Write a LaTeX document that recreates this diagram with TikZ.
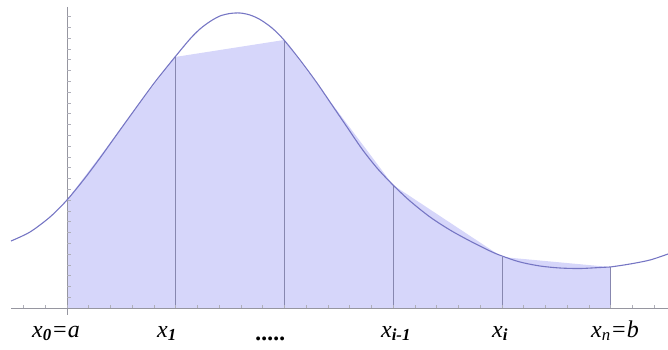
\documentclass[tikz,border=0pt]{standalone}
\usepackage{fontspec}
\setmainfont{Liberation Serif}
\begin{document}
\begin{tikzpicture}[x=1pt,y=-1pt,
  fillc/.style={fill={rgb,255:red,214;green,214;blue,250}},
  curvec/.style={draw={rgb,255:red,118;green,118;blue,196},line width=1.1pt},
  divline/.style={draw={rgb,255:red,135;green,135;blue,175},line width=0.7pt},
  axisc/.style={draw={rgb,255:red,150;green,150;blue,160},line width=0.7pt},
  tickc/.style={draw={rgb,255:red,175;green,175;blue,185},line width=0.5pt},
  lab/.style={font=\fontsize{24}{26}\selectfont\itshape,inner sep=0pt,anchor=base}]
\useasboundingbox (0,0) rectangle (668,350);
% trapezoids
\path[fillc] (67,308) -- (67,200) -- (175,57) -- (284,40) -- (393,185) -- (502,257) -- (610,267) -- (610,308) -- cycle;
% division lines
\foreach \xx/\yy in {175/57,284/40,393/185,502/257,610/267}
  \draw[divline] (\xx,308) -- (\xx,\yy);
% axes
\draw[axisc] (11,308) -- (668,308);
\draw[axisc] (67,7) -- (67,315);
\foreach \k in {-2,...,27}
  \draw[tickc] ({67+\k*21.74},308) -- ({67+\k*21.74},304.5);
\foreach \k in {1,...,27}
  \draw[tickc] (67,{308-\k*10.8}) -- (70.5,{308-\k*10.8});
% curve
\draw[curvec] plot[smooth,tension=0.5] coordinates {
 (11,241) (30,232) (50,217) (67,200) (85,178) (100,158) (115,137) (133,112)
 (155,82) (175,57) (190,39) (200,29) (210,21.5) (220,16) (230,13.5) (240,13)
 (250,15) (260,19.5) (272,28) (284,40) (300,60) (317,83) (332,105) (347,127)
 (362,149) (377,168) (393,185) (410,201) (430,217) (450,230) (470,241) (490,251)
 (502,256) (520,262) (540,266) (560,268) (580,268.5) (600,267.5) (610,267)
 (630,264) (650,260) (668,254)};
% labels
\node[lab] (l0) at (56,337) {x\textsubscript{\textbf{0}}=a};
\node[lab] (l1) at (167,337) {x\textsubscript{\textbf{1}}};
\node[lab] (ld) at (271,340) {\textbf{.....}};
\node[lab] (l2) at (396,337) {x\textsubscript{\textbf{i-1}}};
\node[lab] (l3) at (500,337) {x\textsubscript{\textbf{i}}};
\node[lab] (l4) at (615,337) {x\textsubscript{n}=b};
\end{tikzpicture}
\end{document}
